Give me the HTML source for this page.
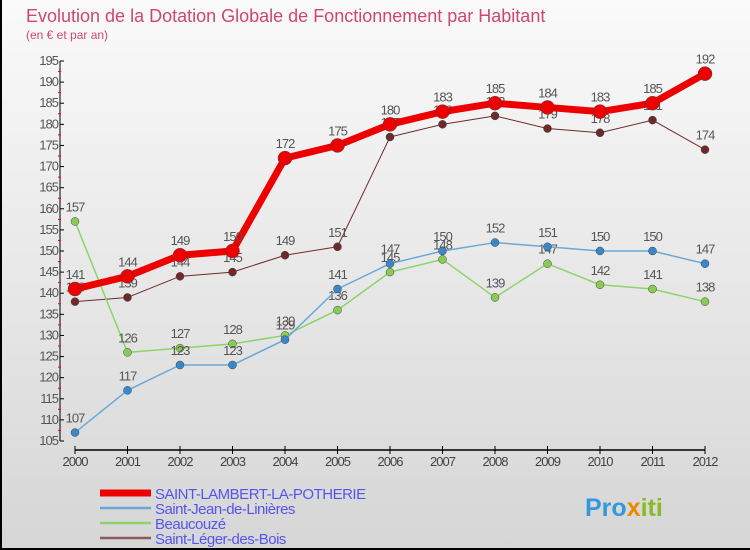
<!DOCTYPE html>
<html><head><meta charset="utf-8"><style>
body{margin:0}
#c{width:750px;height:550px;position:relative;overflow:hidden;background:linear-gradient(#fafafa,#d6d6d6);border-left:2px solid #000;border-bottom:2px solid #000;box-sizing:border-box;font-family:"Liberation Sans",sans-serif}
</style></head><body>
<div id="c">
<svg width="750" height="550" style="position:absolute;left:-2px;top:0">
<text x="26" y="22" font-size="18" fill="#d0466e">Evolution de la Dotation Globale de Fonctionnement par Habitant</text>
<text x="26" y="39" font-size="12" fill="#d0466e">(en € et par an)</text>
<g id="axes"></g><g id="series"></g><g id="legend"></g>
<text x="585" y="516" font-size="25" font-weight="bold" fill="#3399dd">Pro<tspan fill="#ee8800">x</tspan><tspan fill="#88bb22">iti</tspan></text>
</svg>
</div>
<script>
const years=[2000,2001,2002,2003,2004,2005,2006,2007,2008,2009,2010,2011,2012];
const yTicks=[105,110,115,120,125,130,135,140,145,150,155,160,165,170,175,180,185,190,195];
const names=["SAINT-LAMBERT-LA-POTHERIE","Saint-Jean-de-Linières","Beaucouzé","Saint-Léger-des-Bois"];
const sLambert=[141,144,149,150,172,175,180,183,185,184,183,185,192];
const sJean=[107,117,123,123,129,141,147,150,152,151,150,150,147];
const beaucouze=[157,126,127,128,130,136,145,148,139,147,142,141,138];
const sLeger=[138,139,144,145,149,151,177,180,182,179,178,181,174];
const NS="http://www.w3.org/2000/svg";
const xS=i=>75+i*52.5;
const yS=v=>61+(195-v)*(380/90);
function mk(t,a,p){const e=document.createElementNS(NS,t);for(const k in a)e.setAttribute(k,a[k]);p.appendChild(e);return e;}
const ax=document.getElementById('axes');
let l=mk('line',{x1:60,y1:61,x2:60,y2:441,stroke:'#000'},ax);


yTicks.forEach(v=>{
 mk('line',{x1:60,y1:yS(v),x2:64,y2:yS(v),stroke:'#000'},ax);
 if(v<195)mk('line',{x1:58,y1:yS(v+2.5),x2:61,y2:yS(v+2.5),stroke:'#f00'},ax);
 const t=mk('text',{x:58,y:yS(v)+4,'font-size':13,fill:'#555','text-anchor':'end','letter-spacing':'-1'},ax);
 t.textContent=v;
 
 
});
l=mk('line',{x1:75,y1:450,x2:705,y2:450,stroke:'#000','stroke-width':1.5},ax);


years.forEach((y,i)=>{
 mk('line',{x1:xS(i),y1:446,x2:xS(i),y2:454,stroke:'#000'},ax);
 const t=mk('text',{x:xS(i),y:466,'font-size':13,fill:'#444','text-anchor':'middle','letter-spacing':'-1'},ax);
 t.textContent=y;
 
 
});
const sg=document.getElementById('series');
const defs=[[sLeger,'#6e2a2a','#6e2a2a',1,4,'series-saint-leger'],[beaucouze,'#8ed36a','#88cc55',1.5,4,'series-beaucouze'],[sJean,'#6aa8d8','#3a88c8',1.5,4,'series-saint-jean'],[sLambert,'#ee0000','#ee0000',7,7,'series-saint-lambert']];
defs.forEach(([d,lc,pc,w,r,n])=>{
 const g=mk('g',{},sg);
 
 
 const pl=mk('polyline',{points:d.map((v,i)=>xS(i)+','+yS(v)).join(' '),fill:'none',stroke:lc,'stroke-width':w,'stroke-linejoin':'round'},g);
 
 
 d.forEach((v,i)=>{
  const c=mk('circle',{cx:xS(i),cy:yS(v),r:r,fill:pc,stroke:'#444','stroke-width':0.5},g);
  
  
  const t=mk('text',{x:xS(i),y:yS(v)-10,'font-size':13,fill:'#555','text-anchor':'middle','letter-spacing':'-1'},g);
  t.textContent=v;
  
  
 });
});
const lg=document.getElementById('legend');
const lc=['#ee0000','#6aa8d8','#8ed36a','#8a5a5a'];const lw=[7,2.5,2.5,2.5];
names.forEach((n,i)=>{
 const y=493+i*15;
 const ln=mk('line',{x1:100,y1:y,x2:151,y2:y,stroke:lc[i],'stroke-width':lw[i]},lg);
 
 
 const t=mk('text',{x:155,y:y+6,'font-size':15,fill:'#5555ee','letter-spacing':'-0.5'},lg);
 t.textContent=n;
 
 
});
</script>
</body></html>
